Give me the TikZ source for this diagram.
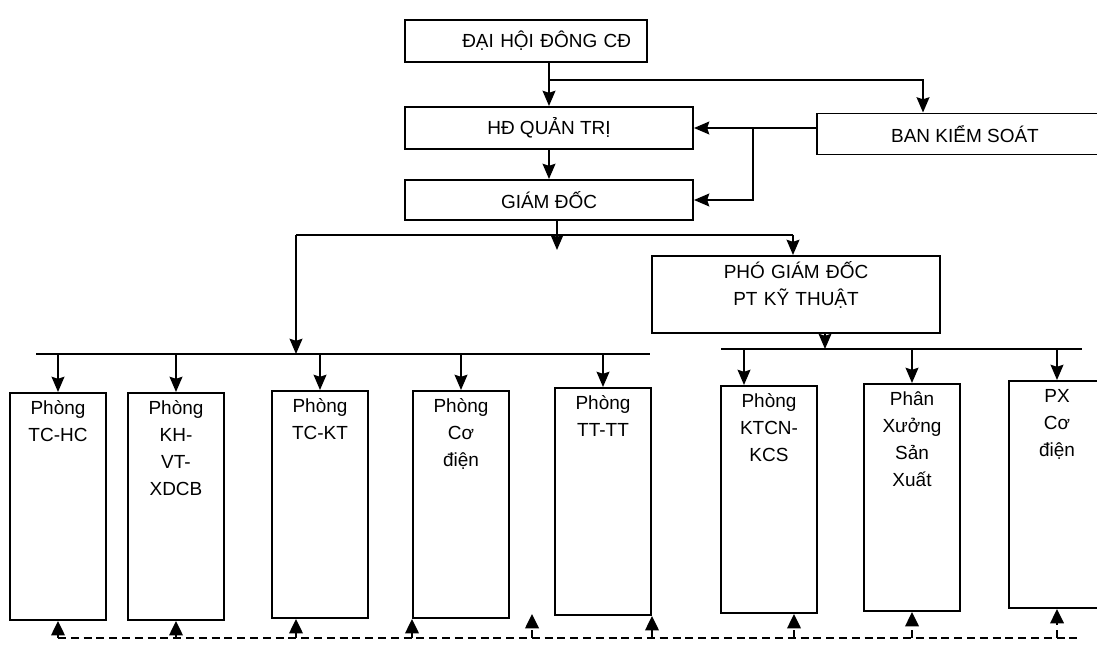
\documentclass[tikz,border=0pt]{standalone}
\usepackage{fontspec}
\setmainfont{Liberation Sans}
\usetikzlibrary{arrows.meta,calc}

\begin{document}
\begin{tikzpicture}[
  x=0.025cm,y=-0.025cm,
  >={Stealth[length=0.38cm,width=0.32cm,inset=0.05cm]},
  every path/.style={line width=1.4pt},
  head/.style={draw,minimum height=1.05cm,align=center,
    font=\fontsize{13.5}{19.2}\selectfont},
  unit/.style={draw,anchor=north,align=center,inner sep=0pt,
    text width=2.4cm,text height=0.55cm,text depth=5.125cm,
    font=\fontsize{13.5}{19.2}\selectfont},
  link/.style={dash pattern=on 0.2cm off 0.12cm},
  up/.style={-{Triangle[length=0.36cm,width=0.34cm]}}]
\useasboundingbox (0,0) rectangle (1097,669);
\node[head,minimum width=6.05cm,text width=5.25cm,align=right] (dhd) at (526,41)
  {ĐẠI HỘI ĐÔNG CĐ};
\node[head,minimum width=7.2cm] (hdqt) at (549,128) {HĐ QUẢN TRỊ};
\node[head,minimum width=7.2cm,minimum height=1cm] (gd) at (549,200) {GIÁM ĐỐC};
\node[head,minimum width=7.4cm,minimum height=1.025cm] (bks) at (965,134)
  {BAN KIỂM SOÁT};
\node[head,minimum width=7.2cm,text width=6.5cm,inner ysep=0pt,
  text height=0.575cm,text depth=1.35cm] (pgd) at (796,294.5)
  {PHÓ GIÁM ĐỐC\\PT KỸ THUẬT};
\node[unit] (tchc) at (58,392) {Phòng\\TC-HC};
\node[unit] (khvt) at (176,392) {Phòng\\KH-\\VT-\\XDCB};
\node[unit] (tckt) at (320,390) {Phòng\\TC-KT};
\node[unit] (pcd) at (461,390) {Phòng\\Cơ\\điện};
\node[unit] (tttt) at (603,387) {Phòng\\TT-TT};
\node[unit] (ktcn) at (769,385) {Phòng\\KTCN-\\KCS};
\node[unit] (pxsx) at (912,383) {Phân\\Xưởng\\Sản\\Xuất};
\node[unit] (pxcd) at (1057,380) {PX\\Cơ\\điện};
% junctions and bus lines
\coordinate (split) at (549,80);
\coordinate (bksin) at (923,80);
\coordinate (ctrl) at (753,128);
\coordinate (fork) at (557,235);
\coordinate (lfork) at (296,235);
\coordinate (rfork) at (793,235);
\coordinate (pout) at (825,349);
\coordinate (lbusL) at (36,354);
\coordinate (lbusR) at (650,354);
\coordinate (rbusL) at (721,349);
\coordinate (rbusR) at (1082,349);
\coordinate (ktin) at (744,349);
\coordinate (ktout) at (794,638);
\coordinate (spare) at (532,614);
\coordinate (dashL) at (58,638);
\coordinate (dashR) at (1082,638);
\draw[->] (dhd.south -| hdqt.north) -- (hdqt.north);
\draw[->] (split) -- (bksin) -- (bksin |- bks.north);
\draw[->] (bks.west |- ctrl) -- (hdqt.east);
\draw[->] (ctrl) |- (gd.east);
\draw[->] (hdqt) -- (gd);
\draw[->] (gd.south -| fork) -- ($(fork)+(0,15)$);
\draw (lfork) -- (rfork);
\draw[->] (lfork) -- (lfork |- lbusL);
\draw[->] (rfork) -- (pgd.north -| rfork);
\draw (lbusL) -- (lbusR);
\draw (rbusL) -- (rbusR);
\draw[->] (pgd.south -| pout) -- (pout);
\draw[->] (tchc.north |- lbusL) -- (tchc.north);
\draw[->] (khvt.north |- lbusL) -- (khvt.north);
\draw[->] (tckt.north |- lbusL) -- (tckt.north);
\draw[->] (pcd.north |- lbusL) -- (pcd.north);
\draw[->] (tttt.north |- lbusL) -- (tttt.north);
\draw[->] (ktin) -- (ktin |- ktcn.north);
\draw[->] (pxsx.north |- rbusL) -- (pxsx.north);
\draw[->] (pxcd.north |- rbusL) -- (pxcd.north);
% dashed feedback line
\draw[link] (dashL) -- (dashR);
\draw[link,up] (dashL) -- (tchc.south);
\draw[link,up] (khvt.south |- dashL) -- (khvt.south);
\draw[link,up] (dashL -| lfork) -- (tckt.south -| lfork);
\draw[link,up] (pcd.south west |- dashL) -- (pcd.south west);
\draw[link,up] (spare |- dashL) -- (spare);
\draw[link,up] (tttt.south east |- dashL) -- (tttt.south east);
\draw[link,up] (ktout) -- (ktout |- ktcn.south);
\draw[link,up] (pxsx.south |- dashL) -- (pxsx.south);
\draw[link,up] (pxcd.south |- dashL) -- (pxcd.south);
\end{tikzpicture}
\end{document}
